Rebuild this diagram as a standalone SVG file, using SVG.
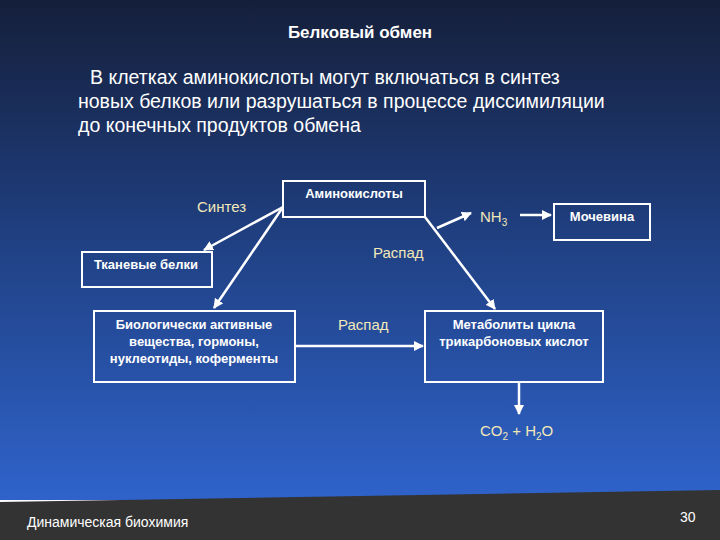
<svg xmlns="http://www.w3.org/2000/svg" width="720" height="540" viewBox="0 0 720 540">
<defs>
<linearGradient id="bg" x1="0" y1="0" x2="0" y2="1"><stop offset="0" stop-color="#151f3a"/><stop offset="0.45" stop-color="#1f3e7e"/><stop offset="1" stop-color="#2f63cb"/></linearGradient>
<marker id="ar" viewBox="0 0 10 10" refX="9" refY="5" markerWidth="4" markerHeight="4" orient="auto"><path d="M0,0L10,5L0,10z" fill="#fff"/></marker>
<style>
.b{fill:none;stroke:#fff;stroke-width:2}
.t{font-family:"Liberation Sans",Arial,sans-serif;fill:#fff}
.n{font-size:13px;font-weight:bold;text-anchor:middle}
.y{fill:#f2e8b8;font-size:15px}
.c line{stroke:#fff;stroke-width:2.5;marker-end:url(#ar)}
</style>
</defs>
<rect width="720" height="500" fill="url(#bg)"/>
<path d="M0,502 L300,497 L720,490 L720,540 L0,540z" fill="#333333"/>
<text class="t" x="360" y="38" font-size="17" font-weight="bold" text-anchor="middle">Белковый обмен</text>
<text class="t" font-size="19.5"><tspan x="90" y="84">В клетках аминокислоты могут включаться в синтез</tspan><tspan x="78" y="108">новых белков или разрушаться в процессе диссимиляции</tspan><tspan x="78" y="132">до конечных продуктов обмена</tspan></text>
<g class="c">
<line x1="283" y1="207" x2="204" y2="250"/>
<line x1="283" y1="207" x2="214" y2="308"/>
<line x1="425" y1="217" x2="495" y2="309"/>
<line x1="437" y1="228" x2="471" y2="213"/>
<line x1="520" y1="215" x2="551" y2="215"/>
<line x1="295" y1="346" x2="423" y2="346"/>
<line x1="519" y1="383" x2="519" y2="414"/>
</g>
<g id="amino"><rect class="b" x="283" y="181" width="142" height="36"/><text class="t n" x="354" y="198">Аминокислоты</text></g>
<g id="tissue"><rect class="b" x="82" y="252" width="130" height="35"/><text class="t n" x="146" y="269" font-weight="normal">Тканевые белки</text></g>
<g id="urea"><rect class="b" x="554" y="204" width="96" height="36"/><text class="t n" x="602" y="221">Мочевина</text></g>
<g id="bio"><rect class="b" x="94" y="311" width="201" height="71"/><text class="t n" x="194" y="329">Биологически активные<tspan x="194" y="346">вещества, гормоны,</tspan><tspan x="194" y="363">нуклеотиды, коферменты</tspan></text></g>
<g id="krebs"><rect class="b" x="425" y="311" width="178" height="71"/><text class="t n" x="514" y="329">Метаболиты цикла<tspan x="514" y="346">трикарбоновых кислот</tspan></text></g>
<text class="t y" x="197" y="212">Синтез</text>
<text class="t y" x="373" y="258">Распад</text>
<text class="t y" x="338" y="330">Распад</text>
<text class="t y" x="480" y="222" fill="#fff">NH<tspan font-size="10" dy="4">3</tspan></text>
<text class="t y" x="480" y="436">CO<tspan font-size="10" dy="4">2</tspan><tspan dy="-4"> + H</tspan><tspan font-size="10" dy="4">2</tspan><tspan dy="-4">O</tspan></text>
<text class="t" x="27" y="527" font-size="14" fill="#f2e8b8">Динамическая биохимия</text>
<text class="t" x="680" y="522" font-size="14" fill="#ddd">30</text>
</svg>
